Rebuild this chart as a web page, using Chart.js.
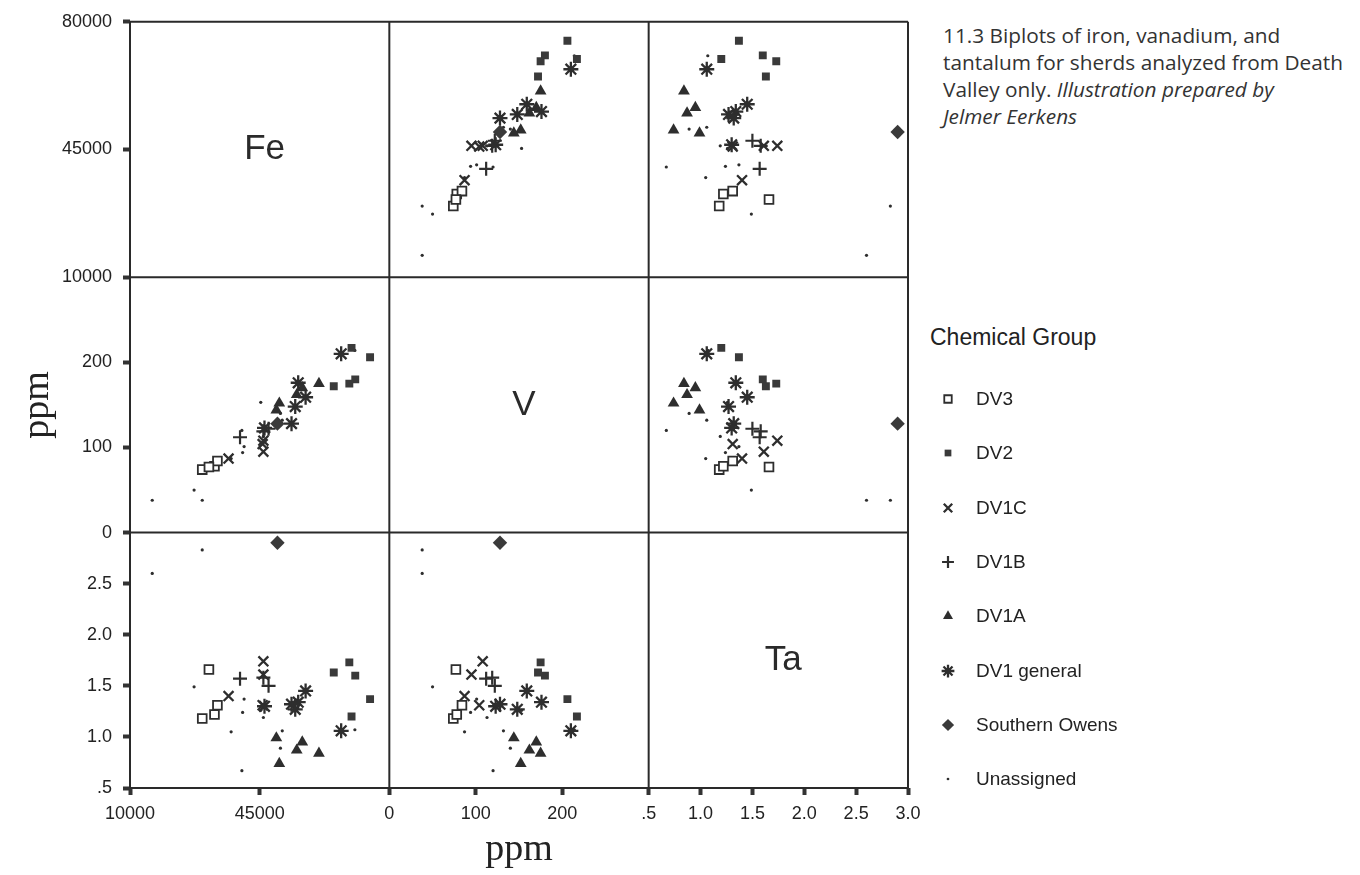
<!DOCTYPE html>
<html>
<head>
<meta charset="utf-8">
<title>Biplots of iron, vanadium, and tantalum</title>
<script src="https://cdn.jsdelivr.net/npm/chart.js@4.4.1/dist/chart.umd.min.js"></script>
<style>
  body { margin: 0; background: #fff; width: 1360px; height: 875px; overflow: hidden; position: relative;
         font-family: "Liberation Sans", Arial, sans-serif; color: #222; }
  #wrap { position: absolute; left: 0; top: 0; width: 930px; height: 875px; }
  #caption { position: absolute; left: 943px; top: 22px; white-space: nowrap; font-family: "Open Sans", sans-serif;
             font-size: 20.8px; line-height: 27px; color: #333; }
  #legendTitle { position: absolute; left: 930px; top: 324px; font-size: 23px; color: #222; }
  .item { position: absolute; left: 938px; height: 24px; display: flex; align-items: center; font-size: 19px; color: #222; }
  .item canvas { width: 20px; height: 20px; margin-right: 18px; }
</style>
</head>
<body>
<div id="wrap"><canvas id="matrix"></canvas></div>
<div id="caption">11.3 Biplots of iron, vanadium, and<br>tantalum for sherds analyzed from Death<br>Valley only. <i>Illustration prepared by<br>Jelmer Eerkens</i></div>
<div id="legendTitle">Chemical Group</div>
<div id="legend"></div>
<script>
// axis ranges / tick labels
const feTicks = [10000, 45000, 80000];
const vTicks = [0, 100, 200, 300];
const taTicks = [0.5, 1.0, 1.5, 2.0, 2.5, 3.0];

// one entry per sherd: iron (ppm), vanadium (ppm), tantalum (ppm)
const dv3Fe = [29500, 32800, 33600, 31300];
const dv3V = [74, 78, 84, 77];
const dv3Ta = [1.18, 1.22, 1.31, 1.66];

const dv2Fe = [74800, 69800, 70800, 69200, 65000];
const dv2V = [206, 217, 180, 175, 172];
const dv2Ta = [1.37, 1.20, 1.60, 1.73, 1.63];

const dv1cFe = [36600, 46000, 46000, 45800];
const dv1cV = [87, 95, 108, 104];
const dv1cTa = [1.40, 1.61, 1.74, 1.31];

const dv1bFe = [39700, 47400, 46000];
const dv1bV = [112, 122, 119];
const dv1bTa = [1.57, 1.50, 1.58];

const dv1aFe = [61000, 55000, 56500, 50300, 49500];
const dv1aV = [175, 162, 170, 152, 144];
const dv1aTa = [0.84, 0.87, 0.95, 0.74, 0.99];

const dv1genFe = [67000, 57400, 55400, 54600, 53600, 46300];
const dv1genV = [210, 159, 176, 148, 128, 123];
const dv1genTa = [1.06, 1.45, 1.34, 1.27, 1.32, 1.30];

const owensFe = [49800];
const owensV = [128];
const owensTa = [2.90];

const unassignedFe = [29500, 16000, 27300, 40200, 40400, 40800, 37300, 46000, 51100, 50600, 70700, 45300];
const unassignedV = [38, 38, 50, 120, 94, 101, 87, 113, 132, 140, 214, 153];
const unassignedTa = [2.83, 2.60, 1.49, 0.67, 1.24, 1.37, 1.05, 1.19, 1.06, 0.89, 1.07, 1.26];

const groupNames = ['DV3', 'DV2', 'DV1C', 'DV1B', 'DV1A', 'DV1 general', 'Southern Owens', 'Unassigned'];
const groupValues = {
  'DV3': {fe: dv3Fe, v: dv3V, ta: dv3Ta},
  'DV2': {fe: dv2Fe, v: dv2V, ta: dv2Ta},
  'DV1C': {fe: dv1cFe, v: dv1cV, ta: dv1cTa},
  'DV1B': {fe: dv1bFe, v: dv1bV, ta: dv1bTa},
  'DV1A': {fe: dv1aFe, v: dv1aV, ta: dv1aTa},
  'DV1 general': {fe: dv1genFe, v: dv1genV, ta: dv1genTa},
  'Southern Owens': {fe: owensFe, v: owensV, ta: owensTa},
  'Unassigned': {fe: unassignedFe, v: unassignedV, ta: unassignedTa}
};

const ink = '#2e2e2e';
const markers = {
  'DV3': {pointStyle: 'rect', radius: 6.2, fill: '#fff', border: 1.8},
  'DV2': {pointStyle: 'rect', radius: 5.6, fill: '#3a3a3a', border: 0},
  'DV1C': {pointStyle: 'crossRot', radius: 7, fill: ink, border: 2.3},
  'DV1B': {pointStyle: 'cross', radius: 7, fill: ink, border: 2.2},
  'DV1A': {pointStyle: 'triangle', radius: 6.8, fill: ink, border: 0},
  'DV1 general': {pointStyle: 'star', radius: 7.5, fill: ink, border: 2.3},
  'Southern Owens': {pointStyle: 'rectRot', radius: 7.2, fill: '#3a3a3a', border: 0},
  'Unassigned': {pointStyle: 'circle', radius: 1.6, fill: ink, border: 0}
};

const vars = ['fe', 'v', 'ta'];
const labels = {fe: 'Fe', v: 'V', ta: 'Ta'};
const tickSets = {fe: feTicks, v: vTicks, ta: taTicks};
const fmt = {
  fe: v => String(v),
  v: v => String(v),
  ta: v => (v === 0.5 ? '.5' : v.toFixed(1))
};

// off-diagonal panels: row variable on y, column variable on x
const datasets = [];
groupNames.forEach(name => {
  const g = groupValues[name];
  const m = markers[name];
  vars.forEach(row => {
    vars.forEach(col => {
      if (row === col) return;
      datasets.push({
        label: name,
        xAxisID: 'x_' + col,
        yAxisID: 'y_' + row,
        data: g[col].map((x, i) => ({x: x, y: g[row][i]})),
        showLine: false,
        pointStyle: m.pointStyle,
        pointRadius: m.radius,
        pointBackgroundColor: m.fill,
        pointBorderColor: ink,
        pointBorderWidth: m.border
      });
    });
  });
});

function makeScale(key, axis, weight, showMax) {
  const ticks = tickSets[key];
  const lo = ticks[0], hi = ticks[ticks.length - 1];
  const horizontal = axis === 'x';
  return {
    type: 'linear',
    position: horizontal ? 'bottom' : 'left',
    stack: horizontal ? 'cols' : 'rows',
    stackWeight: 1,
    weight: weight,
    min: lo,
    max: hi,
    afterBuildTicks: s => { s.ticks = ticks.filter(t => showMax || t < hi).map(t => ({value: t})); },
    afterFit: s => { if (horizontal) s.height = 87; else s.width = 130; },
    grid: {drawOnChartArea: false, drawTicks: true, tickLength: 7, tickWidth: 4, tickColor: '#333'},
    border: {display: false},
    ticks: {autoSkip: false, maxRotation: 0, padding: horizontal ? 8 : 11, color: '#222',
            font: {size: 18}, callback: v => fmt[key](v)},
    title: {
      display: key === 'v',
      text: 'ppm',
      color: '#222',
      font: {family: '"Liberation Serif", "Times New Roman", serif', size: 38},
      padding: {top: 15, bottom: 2}
    }
  };
}

// panel frame and the variable names on the diagonal
const matrixFrame = {
  id: 'matrixFrame',
  afterDatasetsDraw(chart) {
    const s = chart.scales;
    const ctx = chart.ctx;
    const xs = [], ys = [];
    vars.forEach(k => {
      xs.push(s['x_' + k].left, s['x_' + k].right);
      ys.push(s['y_' + k].top, s['y_' + k].bottom);
    });
    const left = Math.min(...xs), right = Math.max(...xs);
    const top = Math.min(...ys), bottom = Math.max(...ys);
    ctx.save();
    ctx.strokeStyle = '#2a2a2a';
    ctx.lineWidth = 2;
    ctx.beginPath();
    xs.forEach(x => { ctx.moveTo(x, top); ctx.lineTo(x, bottom); });
    ys.forEach(y => { ctx.moveTo(left, y); ctx.lineTo(right, y); });
    ctx.stroke();
    ctx.fillStyle = '#2a2a2a';
    ctx.font = '35px "Liberation Sans", Arial, sans-serif';
    ctx.textAlign = 'center';
    ctx.textBaseline = 'middle';
    vars.forEach(k => {
      const cx = (s['x_' + k].left + s['x_' + k].right) / 2 + 5;
      const cy = (s['y_' + k].top + s['y_' + k].bottom) / 2;
      ctx.fillText(labels[k], cx, cy);
    });
    ctx.restore();
  }
};

Chart.defaults.font.family = '"Liberation Sans", Arial, sans-serif';
Chart.defaults.color = '#222';

new Chart(document.getElementById('matrix'), {
  type: 'scatter',
  data: {datasets: datasets},
  options: {
    responsive: true,
    maintainAspectRatio: false,
    animation: false,
    layout: {padding: {left: 0, top: 20, right: 22, bottom: 0}},
    plugins: {legend: {display: false}, tooltip: {enabled: false}},
    scales: {
      x_fe: makeScale('fe', 'x', 1, false),
      x_v: makeScale('v', 'x', 2, false),
      x_ta: makeScale('ta', 'x', 3, true),
      y_fe: makeScale('fe', 'y', 3, true),
      y_v: makeScale('v', 'y', 2, false),
      y_ta: makeScale('ta', 'y', 1, false)
    }
  },
  plugins: [matrixFrame]
});

// legend on the right
const legendBox = document.getElementById('legend');
groupNames.forEach((name, i) => {
  const m = markers[name];
  const item = document.createElement('div');
  item.className = 'item';
  item.style.top = (387 + i * 54.3) + 'px';
  const c = document.createElement('canvas');
  c.width = 20; c.height = 20;
  const cx = c.getContext('2d');
  cx.fillStyle = m.fill;
  cx.strokeStyle = ink;
  cx.lineWidth = m.border;
  if (Chart.helpers && Chart.helpers.drawPoint) {
    Chart.helpers.drawPoint(cx, {pointStyle: m.pointStyle, radius: m.radius * 0.85, borderWidth: m.border, rotation: 0}, 10, 10);
  }
  item.appendChild(c);
  const t = document.createElement('span');
  t.textContent = name;
  item.appendChild(t);
  legendBox.appendChild(item);
});
</script>
</body>
</html>
